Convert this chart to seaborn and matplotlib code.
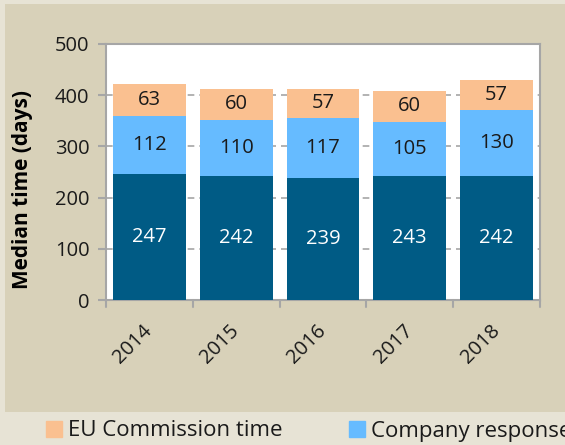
import matplotlib
matplotlib.use("Agg")
import pandas as pd
import matplotlib.pyplot as plt
import seaborn as sns
from matplotlib.patches import Rectangle, Patch

years = ["2014", "2015", "2016", "2017", "2018"]
base_time = [247, 242, 239, 243, 242]
company_time = [112, 110, 117, 105, 130]
eu_time = [63, 60, 57, 60, 57]

df = pd.DataFrame({"Year": years, "base": base_time,
                   "company": company_time, "eu": eu_time})
df["bottom2"] = df["base"] + df["company"]

sns.set_style("white")
plt.rcParams["font.family"] = ["Open Sans", "DejaVu Sans"]

c_dark = "#005B85"
c_blue = "#66BBFF"
c_peach = "#FAC090"
txt = "#1a1a1a"

fig = plt.figure(figsize=(5.65, 4.45), dpi=100, facecolor="#E7E3D5")
fig.patches.append(Rectangle((5 / 565, 1 - 412 / 445), 1, (412 - 4) / 445,
                             transform=fig.transFigure, facecolor="#D8D1B9",
                             edgecolor="none", zorder=-10))
ax = fig.add_axes([106 / 565, 1 - 300 / 445, 434 / 565, 256 / 445])
ax.set_facecolor("white")

bar_kw = dict(width=0.84, saturation=1, ax=ax, zorder=3, linewidth=0, edgecolor="none")
sns.barplot(data=df, x="Year", y="base", color=c_dark, **bar_kw)
sns.barplot(data=df, x="Year", y="company", bottom=df["base"], color=c_blue, **bar_kw)
sns.barplot(data=df, x="Year", y="eu", bottom=df["bottom2"], color=c_peach, **bar_kw)

for i in range(len(years)):
    b = base_time[i]
    c = company_time[i]
    e = eu_time[i]
    ax.text(i, b / 2, str(b), ha="center", va="center", color="white", fontsize=14.5, zorder=4)
    ax.text(i, b + c / 2, str(c), ha="center", va="center", color=txt, fontsize=14.5, zorder=4)
    ax.text(i, b + c + e / 2, str(e), ha="center", va="center", color=txt, fontsize=14.5, zorder=4)

ax.set_ylim(0, 500)
ax.set_xlim(-0.5, 4.5)
ax.set_yticks(range(0, 501, 100))
ax.tick_params(axis="y", labelsize=14.5, length=6, width=1.5, color="#A6A6A6",
               left=True, labelcolor=txt, pad=6)
ax.set_xticks(range(5))
ax.set_xticklabels(years, rotation=45, ha="right", va="center", rotation_mode="anchor",
                   fontsize=14.5, color=txt)
ax.tick_params(axis="x", length=0, pad=20)
for xb in [-0.5, 0.5, 1.5, 2.5, 3.5, 4.5]:
    ax.plot([xb, xb], [0, -0.027], transform=ax.get_xaxis_transform(),
            color="#A6A6A6", lw=1.5, clip_on=False)
ax.yaxis.grid(True, linestyle=(0, (4, 3)), color="#A6A6A6", lw=1.2, zorder=1)
ax.set_axisbelow(True)
for s in ax.spines.values():
    s.set_color("#A6A6A6")
    s.set_linewidth(1.5)
ax.set_xlabel("")
ax.set_ylabel("Median time (days)", fontsize=15, fontweight="bold", color="black")
ax.yaxis.set_label_coords(-0.168, 0.43)

# legend entries (the second one runs off the right edge, as in the original)
leg_kw = dict(loc="center left", frameon=False, fontsize=16, handlelength=0.7,
              handleheight=0.7, handletextpad=0.3, borderpad=0, borderaxespad=0,
              labelcolor=txt)
fig.legend(handles=[Patch(color=c_peach, label="EU Commission time")],
           bbox_to_anchor=(46 / 565, 1 - 431 / 445), **leg_kw)
fig.legend(handles=[Patch(color=c_blue, label="Company response time")],
           bbox_to_anchor=(349 / 565, 1 - 431 / 445), **leg_kw)

fig.savefig("out.png", dpi=100, facecolor=fig.get_facecolor())
